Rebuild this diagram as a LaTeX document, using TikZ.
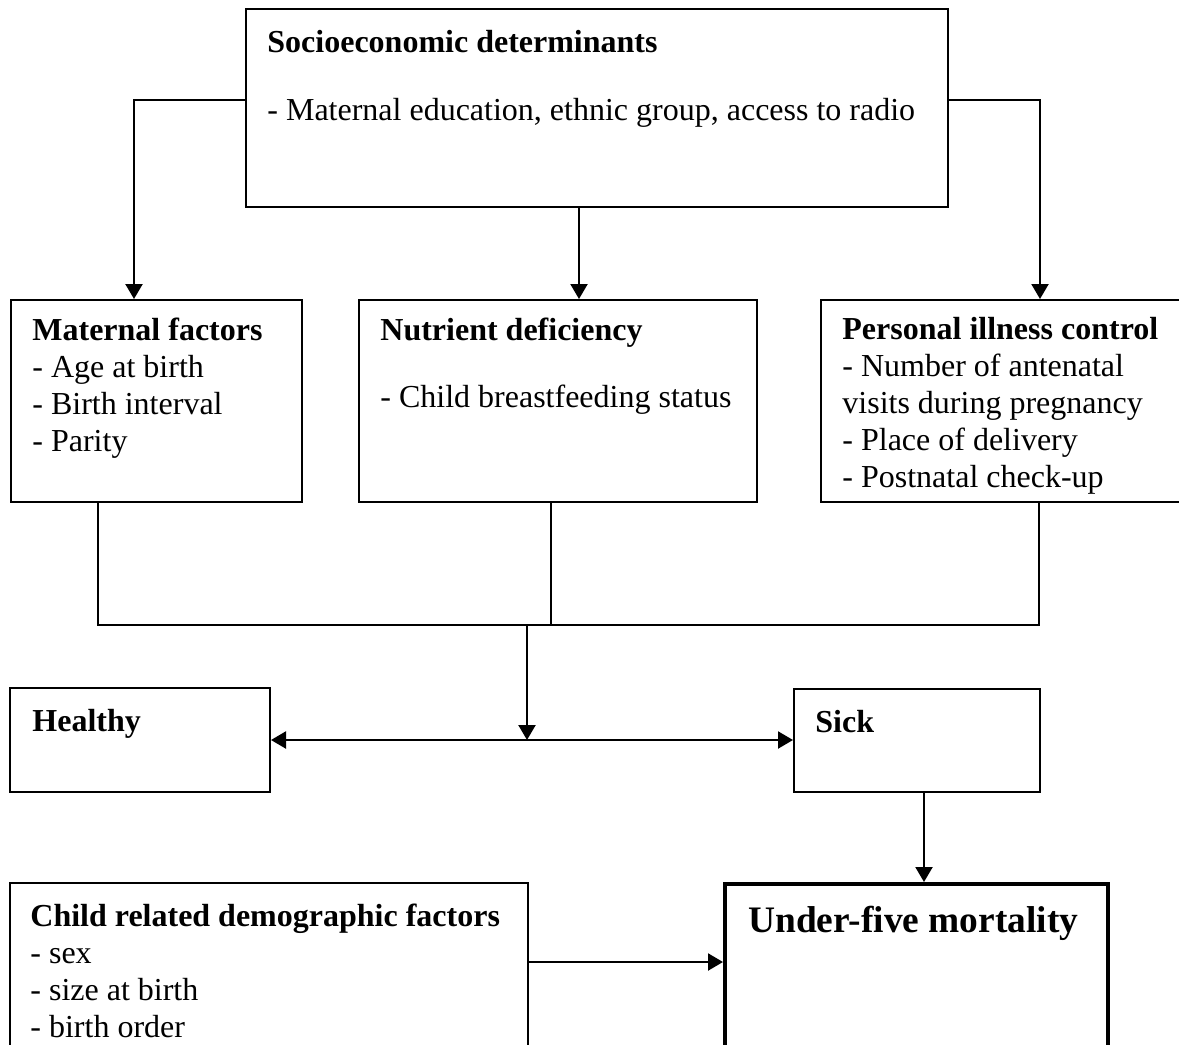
\documentclass[tikz,border=0pt]{standalone}
\usepackage{fontspec}
\setmainfont{Liberation Serif}
\usetikzlibrary{arrows.meta,fit}
\begin{document}
\begin{tikzpicture}[x=0.5pt,y=-0.5pt,
  box/.style={draw, line width=1pt, inner sep=0pt},
  boldbox/.style={draw, line width=2pt, inner sep=0pt},
  txt/.style={anchor=north west, inner sep=0pt, align=left, font=\fontsize{16}{18.5}\selectfont},
  arr/.style={line width=1.1pt, -{Triangle[length=7.5pt,width=8.5pt]}},
  arrboth/.style={line width=1.1pt, {Triangle[length=7.5pt,width=8.5pt]}-{Triangle[length=7.5pt,width=8.5pt]}},
  link/.style={line width=0.9pt}]
\useasboundingbox (0,0) rectangle (1179,1045);
\clip (0,0) rectangle (1179,1045);

% boxes
\node[box, fit={(246,9) (948,207)}] (soc) {};
\node[box, fit={(11,300) (302,502)}] (mat) {};
\node[box, fit={(359,300) (757,502)}] (nut) {};
\node[box, fit={(821,300) (1195,502)}] (per) {};
\node[box, fit={(10,688) (270,792)}] (hea) {};
\node[box, fit={(794,689) (1040,792)}] (sic) {};
\node[box, fit={(10,883) (528,1070)}] (chi) {};
\node[boldbox, fit={(725,884) (1108,1070)}] (und) {};

% texts
\node[txt] (socT) at (267,26) {\strut\textbf{Socioeconomic determinants}\\[15.5pt]- Maternal education, ethnic group, access to radio};
\node[txt] (matT) at (32,314) {\strut\textbf{Maternal factors}\\- Age at birth\\- Birth interval\\- Parity};
\node[txt] (nutT) at (380,314) {\strut\textbf{Nutrient deficiency}\\[15pt]- Child breastfeeding status};
\node[txt] (perT) at (842,313) {\strut\textbf{Personal illness control}\\- Number of antenatal\\visits during pregnancy\\- Place of delivery\\- Postnatal check-up};
\node[txt] (heaT) at (32,705) {\strut\textbf{Healthy}};
\node[txt] (sicT) at (815,706) {\strut\textbf{Sick}};
\node[txt] (chiT) at (30,900) {\strut\textbf{Child related demographic factors}\\- sex\\- size at birth\\- birth order};
\node[anchor=base west, inner sep=0pt, font=\fontsize{18.7}{22}\selectfont\bfseries] (undT) at (748,932) {Under-five mortality};

% connectors
\coordinate (jl) at (98,625);
\coordinate (jm) at (527,625);
\coordinate (jr) at (1039,625);
\coordinate (hs) at (527,740);
\draw[arr] (soc.west |- 0,100) -| (134,0 |- mat.north);
\draw[arr] (soc.south -| 579,0) -- (579,0 |- nut.north);
\draw[arr] (soc.east |- 0,100) -| (1040,0 |- per.north);
\draw[link] (mat.south -| jl) -- (jl) -- (jr) -- (per.south -| jr);
\draw[link] (nut.south -| 551,0) -- (551,0 |- jl);
\draw[arr] (jm) -- (hs);
\draw[arrboth] (hea.east |- hs) -- (sic.west |- hs);
\draw[arr] (sic.south -| 924,0) -- (924,0 |- und.north);
\draw[arr] (chi.east |- 0,962) -- (und.west |- 0,962);
\end{tikzpicture}
\end{document}
